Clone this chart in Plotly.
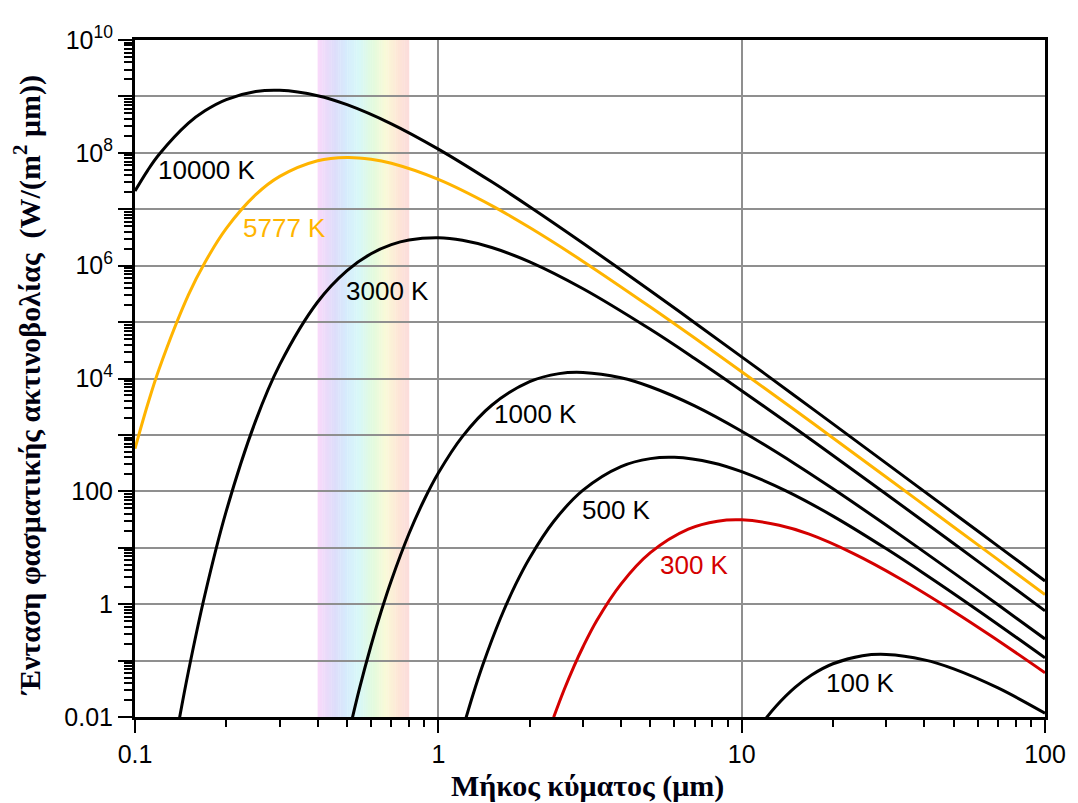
import math
import plotly.graph_objects as go

# ---- data (spectral exitance, W/(m^2 um)) ----
lam_10000 = [0.1, 0.11, 0.12, 0.15, 0.17, 0.2, 0.25, 0.3, 0.4, 0.5, 0.7, 1, 1.5, 2, 3, 5, 7, 10, 15, 20, 30, 50, 70, 100]
val_10000 = [2.11e7, 4.85e7, 9.33e7, 3.36e8, 5.56e8, 8.79e8, 1.217e9, 1.283e9, 1.030e9, 7.14e8, 3.27e8, 1.164e8,
             3.06e7, 1.11e7, 2.50e6, 3.59e5, 9.76e4, 2.42e4, 4.90e3, 1.57e3, 313, 41.0, 10.7, 2.58]

lam_5777 = [0.1, 0.11, 0.12, 0.15, 0.17, 0.2, 0.25, 0.3, 0.4, 0.5, 0.6, 0.7, 1, 1.5, 2, 3, 5, 7, 10, 15, 20, 30, 50, 70, 100]
val_5777 = [571, 3.42e3, 1.46e4, 3.03e5, 1.14e6, 4.57e6, 1.81e7, 3.82e7, 7.24e7, 8.28e7, 7.70e7, 6.53e7, 3.38e7,
            1.16e7, 4.73e6, 1.19e6, 1.85e5, 5.21e4, 1.32e4, 2.73e3, 882, 178, 23.4, 6.15, 1.48]

lam_3000 = [0.14, 0.15, 0.17, 0.2, 0.25, 0.3, 0.4, 0.5, 0.6, 0.7, 0.8, 1, 1.2, 1.5, 2, 3, 5, 7, 10, 15, 20, 30, 50, 70, 100]
val_3000 = [9.2e-3, 0.0641, 1.47, 45.0, 1.79e3, 1.76e4, 2.27e5, 8.18e5, 1.63e6, 2.36e6, 2.85e6, 3.12e6, 2.82e6,
            2.10e6, 1.17e6, 3.90e5, 7.44e4, 2.26e4, 6.08e3, 1.31e3, 432, 88.8, 11.9, 3.14, 0.762]

lam_1000 = [0.5, 0.55, 0.6, 0.65, 0.7, 0.8, 0.9, 1, 1.2, 1.5, 2, 2.5, 3, 4, 5, 7, 10, 15, 20, 30, 50, 70, 100]
val_1000 = [3.8e-3, 0.0324, 0.185, 0.786, 2.64, 17.7, 72.3, 211, 934, 3.36e3, 8.79e3, 1.22e4, 1.28e4, 1.03e4,
            7.14e3, 3.27e3, 1.16e3, 306, 111, 25.0, 3.59, 0.976, 0.242]

lam_500 = [1.2, 1.3, 1.4, 1.6, 1.8, 2, 2.4, 3, 4, 5, 6, 8, 10, 14, 20, 30, 40, 60, 100]
val_500 = [5.8e-3, 0.0246, 0.0826, 0.552, 2.26, 6.59, 29.2, 105, 275, 380, 401, 322, 223, 102, 36.4, 9.57, 3.47, 0.782, 0.112]

lam_300 = [2.4, 2.6, 2.8, 3, 3.33, 4, 5, 6.67, 8.33, 10, 13.3, 16.7, 23.3, 33.3, 50, 66.7, 100]
val_300 = [9.9e-3, 0.0307, 0.0791, 0.176, 0.513, 2.27, 8.18, 21.4, 29.6, 31.2, 25.0, 17.4, 7.95, 2.83, 0.744, 0.270, 0.0608]

lam_100 = [11, 12, 13, 15, 17, 20, 25, 30, 40, 50, 70, 100]
val_100 = [4.85e-3, 9.33e-3, 0.01573, 0.0336, 0.0556, 0.0879, 0.1217, 0.1283, 0.1030, 0.0714, 0.0327, 0.01164]

curve_labels = ["10000 K", "5777 K", "3000 K", "1000 K", "500 K", "300 K", "100 K"]

x_tick_vals = [0.1, 1, 10, 100]
x_tick_text = ["0.1", "1", "10", "100"]
y_exponents = list(range(-2, 11))
y_tick_text = ["0.01", "", "1", "", "100", "", "10<sup>4</sup>", "", "10<sup>6</sup>", "",
               "10<sup>8</sup>", "", "10<sup>10</sup>"]

visible_band = [0.4, 0.8]  # um

x_title = "Μήκος κύματος (μm)"
y_title = "Ένταση φασματικής ακτινοβολίας  (W/(m<sup>2</sup> μm))"

# ---- figure ----
BLACK = "#000000"
YELLOW = "#FFB400"
RED = "#D40000"
SANS = "Liberation Sans, Arial, sans-serif"
SERIF = "Liberation Serif, Times New Roman, serif"

series = [
    (lam_10000, val_10000, BLACK),
    (lam_5777, val_5777, YELLOW),
    (lam_3000, val_3000, BLACK),
    (lam_1000, val_1000, BLACK),
    (lam_500, val_500, BLACK),
    (lam_300, val_300, RED),
    (lam_100, val_100, BLACK),
]

fig = go.Figure()
for (xs, ys, col), name in zip(series, curve_labels):
    fig.add_trace(go.Scatter(x=xs, y=ys, mode="lines", name=name,
                             line=dict(color=col, width=3, shape="spline", smoothing=1.0),
                             showlegend=False, cliponaxis=True))

# rainbow band (pastel gradient)
stops = [(0.00, (250, 218, 250)), (0.18, (222, 220, 250)), (0.32, (214, 236, 252)),
         (0.45, (216, 248, 248)), (0.60, (226, 250, 222)), (0.75, (250, 250, 216)),
         (0.88, (253, 230, 214)), (1.00, (252, 220, 220))]

def interp(t):
    for (t0, c0), (t1, c1) in zip(stops[:-1], stops[1:]):
        if t0 <= t <= t1:
            f = (t - t0) / (t1 - t0) if t1 > t0 else 0
            return tuple(int(round(a + (b - a) * f)) for a, b in zip(c0, c1))
    return stops[-1][1]

nslice = 40
lx0, lx1 = math.log10(visible_band[0]), math.log10(visible_band[1])
for i in range(nslice):
    a = 10 ** (lx0 + (lx1 - lx0) * i / nslice)
    b = 10 ** (lx0 + (lx1 - lx0) * (i + 1) / nslice + 0.001)
    r, g, bb = interp((i + 0.5) / nslice)
    fig.add_shape(type="rect", xref="x", yref="paper", x0=a, x1=b, y0=0, y1=1,
                  fillcolor=f"rgb({r},{g},{bb})", line=dict(width=0), layer="below")

# curve labels
label_pos = [(-0.764, 7.695, BLACK), (-0.508, 6.667, YELLOW), (-0.167, 5.55, BLACK),
             (0.321, 3.369, BLACK), (0.587, 1.667, BLACK), (0.843, 0.691, RED), (1.393, -1.40, BLACK)]
for txt, (lx, ly, col) in zip(curve_labels, label_pos):
    fig.add_annotation(x=lx, y=ly, xref="x", yref="y", text=txt, showarrow=False,
                       font=dict(family=SANS, size=26, color=col))

# axis titles
fig.add_annotation(x=-0.118, y=0.49, xref="paper", yref="paper", text=y_title, textangle=-90,
                   showarrow=False, xanchor="center", yanchor="middle",
                   font=dict(family=SERIF, size=30, color="#000010", weight="bold"))
fig.add_annotation(x=0.497, y=-0.102, xref="paper", yref="paper", text=x_title, showarrow=False,
                   xanchor="center", yanchor="middle",
                   font=dict(family=SERIF, size=30, color="#000010", weight="bold"))

minor_x = [m * 10 ** k for k in range(-1, 2) for m in range(2, 10)]
minor_y = [m * 10.0 ** k for k in range(-2, 10) for m in range(2, 10)]

fig.update_xaxes(type="log", range=[-1, 2], tickmode="array", tickvals=x_tick_vals, ticktext=x_tick_text,
                 showgrid=True, gridcolor="#8f8f8f", gridwidth=1.5,
                 showline=True, linecolor="black", linewidth=3, mirror=True,
                 ticks="outside", ticklen=13, tickwidth=2, tickcolor="black",
                 tickfont=dict(family=SANS, size=25, color="black"),
                 minor=dict(tickmode="array", tickvals=minor_x, ticks="outside", ticklen=7,
                            tickwidth=2, tickcolor="black", showgrid=False),
                 zeroline=False)
fig.update_yaxes(type="log", range=[-2, 10], tickmode="array",
                 tickvals=[10.0 ** e for e in y_exponents], ticktext=y_tick_text,
                 showgrid=True, gridcolor="#8f8f8f", gridwidth=1.5,
                 showline=True, linecolor="black", linewidth=3, mirror=True,
                 ticks="outside", ticklen=14, tickwidth=2, tickcolor="black",
                 tickfont=dict(family=SANS, size=25, color="black"),
                 minor=dict(tickmode="array", tickvals=minor_y, ticks="outside", ticklen=8,
                            tickwidth=1.5, tickcolor="black", showgrid=False),
                 zeroline=False)

# page body has an 8px default margin: size the figure so it fills the window exactly
fig.update_layout(width=1070, height=795, margin=dict(l=127, r=28, t=32, b=86),
                  paper_bgcolor="white", plot_bgcolor="rgba(0,0,0,0)", showlegend=False)

fig.write_html("out.html")
